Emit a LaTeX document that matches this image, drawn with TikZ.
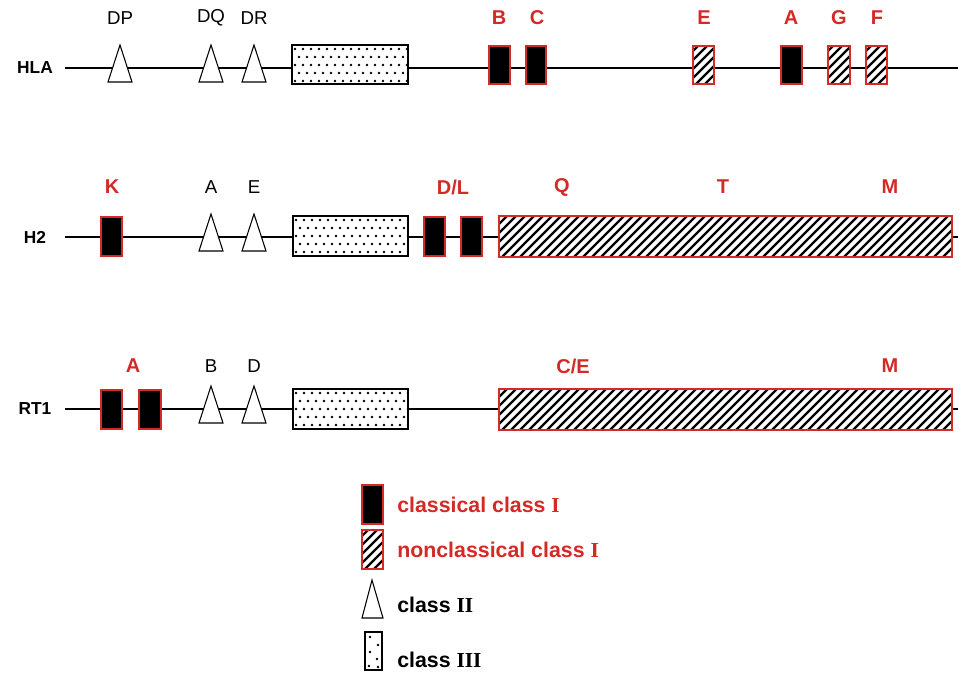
\documentclass[tikz,border=0pt]{standalone}
\usepackage{fontspec}
\setmainfont{Liberation Serif}
\setsansfont{Liberation Sans}
\definecolor{gred}{HTML}{D42A26}
\tikzset{
  lbl/.style={font=\sffamily\fontsize{14}{14}\selectfont, inner sep=0},
  rlbl/.style={lbl, font=\sffamily\bfseries\fontsize{15}{15}\selectfont, text=gred},
  row/.style={font=\sffamily\bfseries\fontsize{13}{13}\selectfont, inner sep=0},
  leg/.style={font=\sffamily\bfseries\fontsize{16}{16}\selectfont, anchor=west, inner sep=0},
  tri/.style={draw=black, fill=white, line width=0.8pt},
  dotbox/.style={draw=black, fill=white, line width=0.8pt},
  cls/.style={draw=gred, fill=black, line width=1.5pt},
  ncl/.style={draw=gred, line width=1.5pt},
  gline/.style={line width=1.1pt}
}
\newcommand{\hatchbox}[4]{% x1 y1 x2 y2
  \fill[white] (#1,#2) rectangle (#3,#4);
  \begin{scope}
  \clip (#1,#2) rectangle (#3,#4);
  \foreach \k in {-60,-51,...,480} {\draw[line width=1.8pt] (#1+\k,#4) -- ++(45,-45);}
  \end{scope}
  \draw[ncl] (#1,#2) rectangle (#3,#4);}
\newcommand{\dotsbox}[4]{%
  \draw[dotbox] (#1,#2) rectangle (#3,#4);
  \begin{scope}
  \clip (#1,#2) rectangle (#3,#4);
  \foreach \i in {0,...,14} {\foreach \j in {0,...,4} {
    \fill ({#1+3+\i*8+mod(\j,2)*4},{#2+4+\j*8}) circle (1.3);}}
  \end{scope}}
\newcommand{\triang}[2]{% center x, mid y
  \draw[tri] (#1-12,#2+14) -- (#1,#2-23) -- (#1+12,#2+14) -- cycle;}
\begin{document}
\begin{tikzpicture}[x=0.75pt,y=-0.75pt]
\useasboundingbox[fill=white] (0,0) rectangle (966,692);
% HLA
\node[row] (hla) at (35,68) {HLA};
\draw[gline] (65,68) coordinate (h0) -- (958,68) coordinate (h1);
\triang{120}{68}\triang{211}{68}\triang{254}{68}
\dotsbox{292}{45}{408}{84}
\draw[cls] (489,46) rectangle (510,84);
\draw[cls] (526,46) rectangle (546,84);
\hatchbox{693}{46}{714}{84}
\draw[cls] (781,46) rectangle (802,84);
\hatchbox{828}{46}{850}{84}
\hatchbox{866}{46}{887}{84}
\node[lbl] (ldp) at (120,18) {DP};
\node[lbl] (ldq) at (211,18) {DQ};
\node[lbl] (ldr) at (254,18) {DR};
\node[rlbl] (lb) at (499,18) {B};
\node[rlbl] (lc) at (537,18) {C};
\node[rlbl] (le) at (704,18) {E};
\node[rlbl] (la) at (791,18) {A};
\node[rlbl] (lg) at (839,18) {G};
\node[rlbl] (lf) at (877,18) {F};
% H2
\node[row] (h2) at (35,237) {H2};
\draw[gline] (65,237) -- (958,237);
\draw[cls] (101,217) rectangle (122,256);
\triang{211}{237}\triang{254}{237}
\dotsbox{293}{216}{408}{256}
\draw[cls] (424,217) rectangle (445,256);
\draw[cls] (461,217) rectangle (482,256);
\hatchbox{499}{216}{952}{257}
\node[rlbl] (lk) at (112,187) {K};
\node[lbl] (la2) at (211,187) {A};
\node[lbl] (le2) at (254,187) {E};
\node[rlbl] (ldl) at (453,187) {D/L};
\node[rlbl] (lq) at (562,187) {Q};
\node[rlbl] (lt) at (723,187) {T};
\node[rlbl] (lm) at (890,187) {M};
% RT1
\node[row] (rt1) at (35,409) {RT1};
\draw[gline] (65,409) -- (958,409);
\draw[cls] (101,390) rectangle (122,429);
\draw[cls] (139,390) rectangle (161,429);
\triang{211}{409}\triang{254}{409}
\dotsbox{293}{389}{408}{429}
\hatchbox{499}{389}{952}{430}
\node[rlbl] (la3) at (133,366) {A};
\node[lbl] (lb3) at (211,366) {B};
\node[lbl] (ld3) at (254,366) {D};
\node[rlbl] (lce) at (573,366) {C/E};
\node[rlbl] (lm3) at (890,366) {M};
% legend
\draw[cls] (362,485) rectangle (383,524);
\node[leg, text=gred] (k1) at (397,505) {classical class \textrm{I}};
\hatchbox{362}{530}{383}{569}
\node[leg, text=gred] (k2) at (397,550) {nonclassical class \textrm{I}};
\draw[tri] (362,618) -- (372,580) -- (383,618) -- cycle;
\node[leg] (k3) at (397,605) {class \textrm{II}};
\draw[dotbox] (365,632) rectangle (382,670);
\foreach \p in {(370,637),(378,645),(370,652),(377,659),(369,666),(378,667)} \fill \p circle (1.3);
\node[leg] (k4) at (397,660) {class \textrm{III}};
\end{tikzpicture}
\end{document}
